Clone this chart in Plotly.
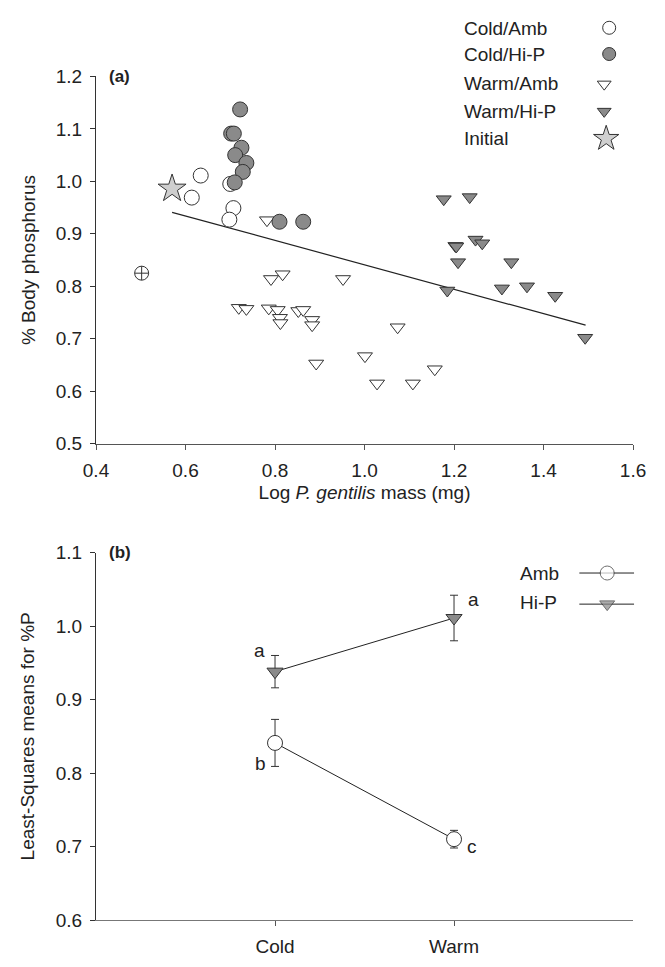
import plotly.graph_objects as go

# ---------------- Panel (a) data ----------------
cold_amb_x = [0.614, 0.634, 0.700, 0.707, 0.698]
cold_amb_y = [0.969, 1.011, 0.995, 0.949, 0.927]

cold_hip_x = [0.722, 0.702, 0.708, 0.725, 0.711, 0.736, 0.728, 0.710, 0.810, 0.863]
cold_hip_y = [1.137, 1.091, 1.091, 1.064, 1.050, 1.035, 1.018, 0.998, 0.923, 0.923]

warm_amb_x = [0.782, 0.791, 0.817, 0.952, 0.719, 0.736, 0.786, 0.806, 0.811, 0.812,
              0.852, 0.863, 0.883, 0.883, 1.074, 0.892, 1.001, 1.028, 1.108, 1.157]
warm_amb_y = [0.926, 0.814, 0.823, 0.814, 0.759, 0.757, 0.758, 0.755, 0.740, 0.730,
              0.753, 0.755, 0.736, 0.726, 0.722, 0.653, 0.667, 0.615, 0.615, 0.642]

warm_hip_x = [1.177, 1.235, 1.203, 1.205, 1.248, 1.263, 1.209, 1.328, 1.185, 1.307,
              1.363, 1.426, 1.493]
warm_hip_y = [0.966, 0.970, 0.877, 0.876, 0.889, 0.882, 0.846, 0.846, 0.792, 0.796,
              0.800, 0.782, 0.702]

initial_x = [0.570]
initial_y = [0.986]

other_x = [0.502]
other_y = [0.825]

fit_x = [0.570, 1.494]
fit_y = [0.941, 0.726]

a_xticks = [0.4, 0.6, 0.8, 1.0, 1.2, 1.4, 1.6]
a_yticks = [0.5, 0.6, 0.7, 0.8, 0.9, 1.0, 1.1, 1.2]

# ---------------- Panel (b) data ----------------
temps = ["Cold", "Warm"]
temp_pos = [1, 2]
amb_mean = [0.841, 0.710]
amb_err = [0.032, 0.012]
hip_mean = [0.938, 1.011]
hip_err = [0.022, 0.031]
b_yticks = [0.6, 0.7, 0.8, 0.9, 1.0, 1.1]

sig_letters = ["a", "a", "b", "c"]
sig_x = [0.913, 2.111, 0.917, 2.098]
sig_y = [0.967, 1.036, 0.813, 0.7005]

legend_a_labels = ["Cold/Amb", "Cold/Hi-P", "Warm/Amb", "Warm/Hi-P", "Initial"]
legend_b_labels = ["Amb", "Hi-P"]

FONT = "Liberation Sans, Arial, sans-serif"
TXT = "#222222"
GREY = "#8a8a8a"
EDGE = "#333333"
FS = 19

# layout geometry (pixels)
W, H = 665, 967
ML, MR, MT, MB = 96, 20, 10, 31
PLOT_R = 636
x_dom_end = (PLOT_R - ML) / (W - MR - ML)
ph = H - MT - MB


def ydom(top_px, bot_px):
    return [(H - MB - bot_px) / ph, (H - MB - top_px) / ph]


fig = go.Figure()

# Panel (a) traces (drawing order matters for overlap)
fig.add_trace(go.Scatter(x=fit_x, y=fit_y, mode="lines",
                         line=dict(color="#222222", width=1.2),
                         xaxis="x", yaxis="y", showlegend=False))
fig.add_trace(go.Scatter(x=warm_amb_x, y=warm_amb_y, mode="markers",
                         marker=dict(symbol="triangle-down", size=13, color="white",
                                     line=dict(color=EDGE, width=1)),
                         xaxis="x", yaxis="y", showlegend=False))
fig.add_trace(go.Scatter(x=warm_hip_x, y=warm_hip_y, mode="markers",
                         marker=dict(symbol="triangle-down", size=13, color=GREY,
                                     line=dict(color=EDGE, width=1)),
                         xaxis="x", yaxis="y", showlegend=False))
fig.add_trace(go.Scatter(x=cold_amb_x, y=cold_amb_y, mode="markers",
                         marker=dict(symbol="circle", size=15, color="white",
                                     line=dict(color=EDGE, width=1)),
                         xaxis="x", yaxis="y", showlegend=False))
fig.add_trace(go.Scatter(x=cold_hip_x, y=cold_hip_y, mode="markers",
                         marker=dict(symbol="circle", size=15, color=GREY,
                                     line=dict(color=EDGE, width=1)),
                         xaxis="x", yaxis="y", showlegend=False))
fig.add_trace(go.Scatter(x=initial_x, y=initial_y, mode="markers",
                         marker=dict(symbol="star", size=21, color="#cfcfcf",
                                     line=dict(color=EDGE, width=1)),
                         xaxis="x", yaxis="y", showlegend=False))
fig.add_trace(go.Scatter(x=other_x, y=other_y, mode="markers",
                         marker=dict(symbol="circle-cross", size=14, color="white",
                                     line=dict(color=EDGE, width=1)),
                         xaxis="x", yaxis="y", showlegend=False))

# Panel (b) traces
fig.add_trace(go.Scatter(x=temp_pos, y=hip_mean, mode="lines+markers",
                         error_y=dict(type="data", array=hip_err, color=EDGE,
                                      thickness=1, width=4),
                         line=dict(color="#222222", width=1),
                         marker=dict(symbol="triangle-down", size=14, color=GREY,
                                     line=dict(color=EDGE, width=1)),
                         xaxis="x2", yaxis="y2", showlegend=False))
fig.add_trace(go.Scatter(x=temp_pos, y=amb_mean, mode="lines+markers",
                         error_y=dict(type="data", array=amb_err, color=EDGE,
                                      thickness=1, width=4),
                         line=dict(color="#222222", width=1),
                         marker=dict(symbol="circle", size=15, color="white",
                                     line=dict(color=EDGE, width=1)),
                         xaxis="x2", yaxis="y2", showlegend=False))

# ---------- Legends drawn on a hidden overlay axis in pixel units ----------
leg_a_sym = ["circle", "circle", "triangle-down", "triangle-down", "star"]
leg_a_fill = ["white", GREY, "white", GREY, "#cfcfcf"]
leg_a_size = [13, 13, 12, 12, 19]
leg_a_y = [18, 45, 76, 104, 132]
leg_a_mx = [612, 612, 607, 607, 609]
for lbl, s, c, sz, yy, mx in zip(legend_a_labels, leg_a_sym, leg_a_fill, leg_a_size, leg_a_y, leg_a_mx):
    fig.add_trace(go.Scatter(x=[mx], y=[yy], mode="markers", cliponaxis=False,
                             marker=dict(symbol=s, size=sz, color=c,
                                         line=dict(color=EDGE, width=1)),
                             xaxis="x3", yaxis="y3", showlegend=False, hoverinfo="skip"))

leg_b_sym = ["circle", "triangle-down"]
leg_b_fill = ["white", GREY]
leg_b_size = [14, 13]
leg_b_y = [579, 611]
for lbl, s, c, sz, yy in zip(legend_b_labels, leg_b_sym, leg_b_fill, leg_b_size, leg_b_y):
    fig.add_trace(go.Scatter(x=[582, 610, 637], y=[yy, yy, yy], mode="lines+markers",
                             cliponaxis=False,
                             line=dict(color="#222222", width=1),
                             marker=dict(symbol=s, size=[0, sz, 0], color=c,
                                         line=dict(color=EDGE, width=[0, 1, 0])),
                             xaxis="x3", yaxis="y3", showlegend=False, hoverinfo="skip"))

annotations = []
for lbl, yy in zip(legend_a_labels, [19, 46, 75, 104, 132]):
    annotations.append(dict(x=464, y=yy, xref="x3", yref="y3", text=lbl,
                            showarrow=False, xanchor="left", yanchor="middle",
                            font=dict(family=FONT, size=FS, color=TXT)))
for lbl, yy in zip(legend_b_labels, [579, 609]):
    annotations.append(dict(x=520, y=yy, xref="x3", yref="y3", text=lbl,
                            showarrow=False, xanchor="left", yanchor="middle",
                            font=dict(family=FONT, size=FS, color=TXT)))
annotations.append(dict(x=107, y=68, xref="x3", yref="y3", text="<b>(a)</b>",
                        showarrow=False, xanchor="left", yanchor="middle",
                        font=dict(family=FONT, size=17, color=TXT)))
annotations.append(dict(x=107, y=558, xref="x3", yref="y3", text="<b>(b)</b>",
                        showarrow=False, xanchor="left", yanchor="middle",
                        font=dict(family=FONT, size=17, color=TXT)))
for t, xx, yy in zip(sig_letters, sig_x, sig_y):
    annotations.append(dict(x=xx, y=yy, xref="x2", yref="y2", text=t,
                            showarrow=False, xanchor="center", yanchor="middle",
                            font=dict(family=FONT, size=FS, color=TXT)))

axis_common = dict(showgrid=False, zeroline=False, showline=True, linewidth=1,
                   ticks="outside", ticklen=5, tickwidth=1, ticklabelstandoff=4,
                   tickfont=dict(family=FONT, size=FS, color=TXT))

fig.update_layout(
    width=W, height=H,
    margin=dict(l=ML, r=MR, t=MT, b=MB),
    plot_bgcolor="rgba(0,0,0,0)", paper_bgcolor="white",
    font=dict(family=FONT, color=TXT),
    showlegend=False,
    xaxis=dict(**axis_common, domain=[0, x_dom_end], anchor="y", range=[0.4, 1.6],
               tickvals=a_xticks, ticktext=["%.1f" % v for v in a_xticks],
               linecolor="#555555", tickcolor="#555555",
               title=dict(text="Log <i>P. gentilis</i> mass (mg)", standoff=6,
                          font=dict(family=FONT, size=FS, color=TXT))),
    yaxis=dict(**axis_common, domain=ydom(68, 446), anchor="x", range=[0.5, 1.2],
               tickvals=a_yticks, ticktext=["%.1f" % v for v in a_yticks],
               linecolor="#333333", tickcolor="#333333",
               title=dict(text="% Body phosphorus", standoff=15,
                          font=dict(family=FONT, size=FS, color=TXT))),
    xaxis2=dict(**axis_common, domain=[0, x_dom_end], anchor="y2", range=[0, 3],
                tickvals=temp_pos, ticktext=temps,
                linecolor="#777777", tickcolor="#555555"),
    yaxis2=dict(**axis_common, domain=ydom(558, 936), anchor="x2", range=[0.6, 1.1],
                tickvals=b_yticks, ticktext=["%.1f" % v for v in b_yticks],
                linecolor="#333333", tickcolor="#333333",
                title=dict(text="Least-Squares means for %P", standoff=16,
                           font=dict(family=FONT, size=FS, color=TXT))),
    xaxis3=dict(domain=[0, 1], anchor="y3", range=[ML, W - MR], visible=False,
                fixedrange=True),
    yaxis3=dict(domain=[0, 1], anchor="x3", range=[H - MB, MT], visible=False,
                fixedrange=True),
    annotations=annotations,
)

fig.write_html("out.html",
               config={"displayModeBar": False, "staticPlot": True},
               post_script="document.body.style.margin='0px';document.body.style.padding='0px';")
